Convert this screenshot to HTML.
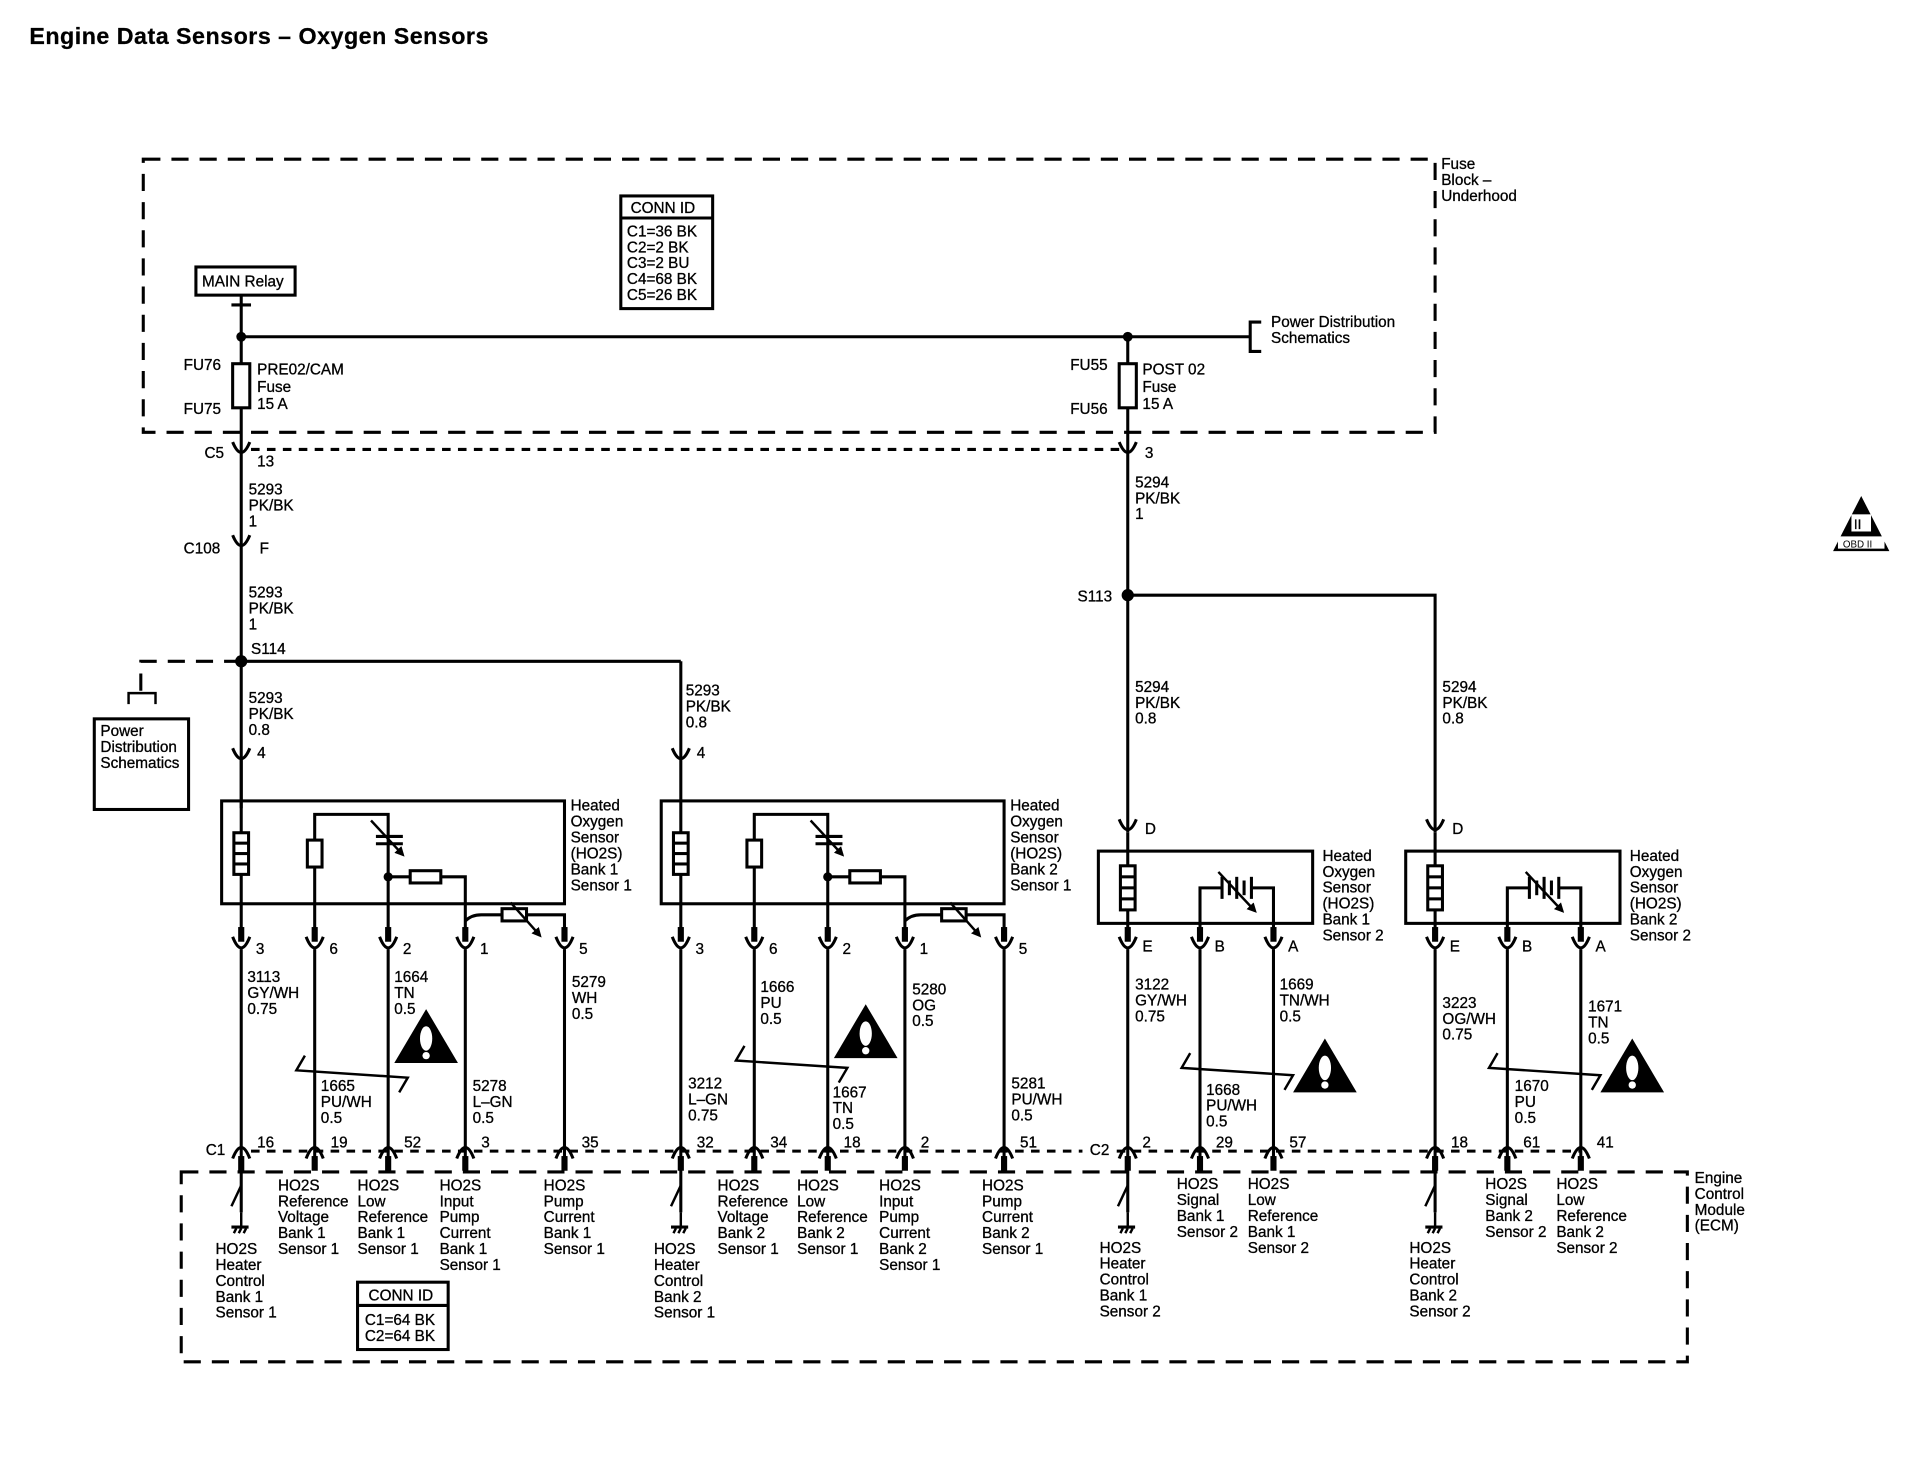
<!DOCTYPE html>
<html><head><meta charset="utf-8"><style>
html,body{margin:0;padding:0;background:#fff}
svg{display:block}
text{font-family:"Liberation Sans",sans-serif;font-size:12.5px;fill:#000;stroke:#000;stroke-width:0.25px;letter-spacing:0}
.t{font-weight:bold}
</style></head><body>
<svg width="1920" height="1472" viewBox="0 0 1568 1202" preserveAspectRatio="none" xmlns="http://www.w3.org/2000/svg">
<defs>
<marker id="ar" markerWidth="8" markerHeight="8" refX="6" refY="4" orient="auto" markerUnits="userSpaceOnUse"><path d="M0,0 L8,4 L0,8 z" fill="#000"/></marker>
<g id="cup"><path d="M-7,765 Q0,783 7,765" fill="none" stroke="#000" stroke-width="2.5"/><rect x="-2.5" y="757" width="5" height="12" fill="#000"/></g>
<g id="cap"><path d="M-7,946 Q0,928 7,946" fill="none" stroke="#000" stroke-width="2.5"/><rect x="-2.5" y="944" width="5" height="12" fill="#000"/></g>
<g id="wide" fill="none" stroke="#000" stroke-width="2.5">
 <rect x="-16" y="654" width="280" height="84"/>
 <line x1="0" y1="620" x2="0" y2="765"/>
 <rect x="-6" y="680" width="12" height="34" fill="#fff"/>
 <line x1="-6" y1="688.5" x2="6" y2="688.5"/><line x1="-6" y1="697" x2="6" y2="697"/><line x1="-6" y1="705.5" x2="6" y2="705.5"/>
 <polyline points="60,765 60,665 120,665 120,765"/>
 <rect x="54" y="686" width="12" height="22" fill="#fff"/>
 <line x1="110" y1="683" x2="132" y2="683"/><line x1="110" y1="689" x2="132" y2="689"/>
 <line x1="106" y1="670" x2="132" y2="698" marker-end="url(#ar)" stroke-width="2"/>
 <circle cx="120" cy="716" r="2.5" fill="#000"/>
 <polyline points="120,716 183,716 183,765"/>
 <rect x="138" y="711" width="25" height="10" fill="#fff"/>
 <path d="M183,752 Q188,747 196,747 L264,747 L264,765"/>
 <rect x="213" y="742" width="20" height="10" fill="#fff"/>
 <line x1="220" y1="737" x2="244" y2="764" marker-end="url(#ar)" stroke-width="2"/>
 <line x1="0" y1="775" x2="0" y2="990"/><line x1="60" y1="775" x2="60" y2="955"/><line x1="120" y1="775" x2="120" y2="955"/><line x1="183" y1="775" x2="183" y2="955"/><line x1="264" y1="775" x2="264" y2="955"/>
</g>
<g id="narrow" fill="none" stroke="#000" stroke-width="2.5">
 <rect x="-24" y="695" width="175" height="59"/>
 <line x1="0" y1="680" x2="0" y2="765"/>
 <rect x="-6" y="707" width="12" height="36" fill="#fff"/>
 <line x1="-6" y1="716" x2="6" y2="716"/><line x1="-6" y1="725" x2="6" y2="725"/><line x1="-6" y1="734" x2="6" y2="734"/>
 <polyline points="59,765 59,725 76,725"/><polyline points="119,765 119,725 102,725"/>
 <line x1="77" y1="716" x2="77" y2="734"/><line x1="83" y1="719" x2="83" y2="731"/><line x1="89" y1="716" x2="89" y2="734"/><line x1="95" y1="719" x2="95" y2="731"/><line x1="101" y1="716" x2="101" y2="734"/>
 <line x1="74" y1="712" x2="104" y2="744" marker-end="url(#ar)" stroke-width="2"/>
 <line x1="0" y1="775" x2="0" y2="990"/><line x1="59" y1="775" x2="59" y2="955"/><line x1="119" y1="775" x2="119" y2="955"/>
</g>
<g id="warn"><path d="M0,-22 L26,22 L-26,22 z" fill="#000"/><ellipse cx="0" cy="2" rx="5" ry="10" fill="#fff"/><circle cx="0" cy="16" r="3" fill="#fff"/></g>
<g id="sw" fill="none" stroke="#000" stroke-width="2"><line x1="0" y1="968" x2="-8" y2="985"/><line x1="0" y1="990" x2="0" y2="1002"/><line x1="-8" y1="1002" x2="6" y2="1002" stroke-width="2.5"/><line x1="-6" y1="1007" x2="-4" y2="1003"/><line x1="-2" y1="1007" x2="0" y2="1003"/><line x1="2" y1="1007" x2="4" y2="1003"/></g>
</defs>

<text x="24" y="36" class="t" style="font-size:19px;letter-spacing:0.4px;stroke-width:0.2px">Engine Data Sensors – Oxygen Sensors</text>

<g fill="none" stroke="#000" stroke-width="2.5" stroke-dasharray="14,9">
<rect x="117" y="130" width="1055" height="223"/>
<rect x="148" y="957" width="1230" height="155"/>
<line x1="205" y1="367" x2="915" y2="367" stroke-dasharray="7,6"/>
<line x1="205" y1="940" x2="884" y2="940" stroke-dasharray="7,6"/>
<line x1="912" y1="940" x2="1290" y2="940" stroke-dasharray="7,6"/>
<polyline points="197,540 115,540 115,566"/>
</g>
<text x="1177" y="138">Fuse</text><text x="1177" y="151">Block –</text><text x="1177" y="164">Underhood</text>

<g fill="none" stroke="#000" stroke-width="2.5">
<rect x="507" y="160" width="75" height="92"/><line x1="507" y1="178" x2="582" y2="178"/>
<rect x="160" y="218" width="81" height="23"/>
<line x1="197" y1="241" x2="197" y2="660"/><line x1="189" y1="249" x2="205" y2="249"/>
<line x1="197" y1="275" x2="1020" y2="275"/>
<polyline points="1030,263 1021,263 1021,287 1030,287"/>
<line x1="921" y1="275" x2="921" y2="680"/>
<rect x="190" y="297" width="14" height="36" fill="#fff"/>
<rect x="914" y="297" width="14" height="36" fill="#fff"/>
<polyline points="921,486 1172,486 1172,680"/>
<line x1="556" y1="540" x2="556" y2="620" /><line x1="197" y1="540" x2="556" y2="540"/>
<polyline points="105,575 105,566 127,566 127,575" stroke-width="2"/>
<rect x="77" y="587" width="77" height="74"/>
<rect x="292" y="1047" width="74" height="55"/><line x1="292" y1="1066" x2="366" y2="1066"/>
</g>
<circle cx="197" cy="275" r="4"/><circle cx="921" cy="275" r="4"/><circle cx="197" cy="540" r="5"/><circle cx="921" cy="486" r="5"/>
<text x="515" y="174">CONN ID</text>
<text x="512" y="193">C1=36 BK</text><text x="512" y="206">C2=2 BK</text><text x="512" y="219">C3=2 BU</text><text x="512" y="232">C4=68 BK</text><text x="512" y="245">C5=26 BK</text>
<text x="165" y="234">MAIN Relay</text>
<text x="1038" y="267">Power Distribution</text><text x="1038" y="280">Schematics</text>
<text x="150" y="302">FU76</text><text x="150" y="338">FU75</text>
<text x="210" y="306">PRE02/CAM</text><text x="210" y="320">Fuse</text><text x="210" y="334">15 A</text>
<text x="874" y="302">FU55</text><text x="874" y="338">FU56</text>
<text x="933" y="306">POST 02</text><text x="933" y="320">Fuse</text><text x="933" y="334">15 A</text>

<g fill="none" stroke="#000" stroke-width="2.5"><path d="M190,373 Q197,356 204,373" transform="rotate(180 197 367)"/><path d="M914,373 Q921,356 928,373" transform="rotate(180 921 367)"/>
<path d="M190,449 Q197,432 204,449" transform="rotate(180 197 443)"/>
<path d="M190,623 Q197,606 204,623" transform="rotate(180 197 617)"/>
<path d="M549,623 Q556,606 563,623" transform="rotate(180 556 617)"/>
<path d="M914,681 Q921,664 928,681" transform="rotate(180 921 675)"/>
<path d="M1165,681 Q1172,664 1179,681" transform="rotate(180 1172 675)"/>
</g>
<text x="167" y="374">C5</text><text x="210" y="381">13</text><text x="935" y="374">3</text>
<text x="203" y="404">5293</text><text x="203" y="417">PK/BK</text><text x="203" y="430">1</text>
<text x="150" y="452">C108</text><text x="212" y="452">F</text>
<text x="203" y="488">5293</text><text x="203" y="501">PK/BK</text><text x="203" y="514">1</text>
<text x="205" y="534">S114</text>
<text x="203" y="574">5293</text><text x="203" y="587">PK/BK</text><text x="203" y="600">0.8</text><text x="210" y="619">4</text>
<text x="560" y="568">5293</text><text x="560" y="581">PK/BK</text><text x="560" y="594">0.8</text><text x="569" y="619">4</text>
<text x="82" y="601">Power</text><text x="82" y="614">Distribution</text><text x="82" y="627">Schematics</text>
<text x="927" y="398">5294</text><text x="927" y="411">PK/BK</text><text x="927" y="424">1</text>
<text x="880" y="491">S113</text>
<text x="927" y="565">5294</text><text x="927" y="578">PK/BK</text><text x="927" y="591">0.8</text>
<text x="1178" y="565">5294</text><text x="1178" y="578">PK/BK</text><text x="1178" y="591">0.8</text>
<text x="935" y="681">D</text><text x="1186" y="681">D</text>

<path d="M1520,405 L1543,450 L1497,450 z" fill="#000"/><rect x="1512" y="420" width="16" height="14" fill="#fff"/><text x="1514" y="432" style="font-size:11px">II</text><rect x="1501" y="438" width="38" height="10" fill="#fff"/><text x="1505" y="447" style="font-size:8px;stroke-width:0">OBD II</text>

<use href="#wide" x="197"/><use href="#wide" x="556"/>
<use href="#narrow" x="921"/><use href="#narrow" x="1172"/>
<g>
<use href="#cup" x="197"/><use href="#cup" x="257"/><use href="#cup" x="317"/><use href="#cup" x="380"/><use href="#cup" x="461"/>
<use href="#cup" x="556"/><use href="#cup" x="616"/><use href="#cup" x="676"/><use href="#cup" x="739"/><use href="#cup" x="820"/>
<use href="#cup" x="921"/><use href="#cup" x="980"/><use href="#cup" x="1040"/>
<use href="#cup" x="1172"/><use href="#cup" x="1231"/><use href="#cup" x="1291"/>
<use href="#cap" x="197"/><use href="#cap" x="257"/><use href="#cap" x="317"/><use href="#cap" x="380"/><use href="#cap" x="461"/>
<use href="#cap" x="556"/><use href="#cap" x="616"/><use href="#cap" x="676"/><use href="#cap" x="739"/><use href="#cap" x="820"/>
<use href="#cap" x="921"/><use href="#cap" x="980"/><use href="#cap" x="1040"/>
<use href="#cap" x="1172"/><use href="#cap" x="1231"/><use href="#cap" x="1291"/>
<use href="#sw" x="197"/><use href="#sw" x="556"/><use href="#sw" x="921"/><use href="#sw" x="1172"/>
</g>
<text x="466" y="662">Heated</text><text x="466" y="675">Oxygen</text><text x="466" y="688">Sensor</text><text x="466" y="701">(HO2S)</text><text x="466" y="714">Bank 1</text><text x="466" y="727">Sensor 1</text>
<text x="825" y="662">Heated</text><text x="825" y="675">Oxygen</text><text x="825" y="688">Sensor</text><text x="825" y="701">(HO2S)</text><text x="825" y="714">Bank 2</text><text x="825" y="727">Sensor 1</text>
<text x="1080" y="703">Heated</text><text x="1080" y="716">Oxygen</text><text x="1080" y="729">Sensor</text><text x="1080" y="742">(HO2S)</text><text x="1080" y="755">Bank 1</text><text x="1080" y="768">Sensor 2</text>
<text x="1331" y="703">Heated</text><text x="1331" y="716">Oxygen</text><text x="1331" y="729">Sensor</text><text x="1331" y="742">(HO2S)</text><text x="1331" y="755">Bank 2</text><text x="1331" y="768">Sensor 2</text>

<text x="209" y="779">3</text><text x="269" y="779">6</text><text x="329" y="779">2</text><text x="392" y="779">1</text><text x="473" y="779">5</text>
<text x="568" y="779">3</text><text x="628" y="779">6</text><text x="688" y="779">2</text><text x="751" y="779">1</text><text x="832" y="779">5</text>
<text x="933" y="777">E</text><text x="992" y="777">B</text><text x="1052" y="777">A</text>
<text x="1184" y="777">E</text><text x="1243" y="777">B</text><text x="1303" y="777">A</text>

<text x="202" y="802">3113</text><text x="202" y="815">GY/WH</text><text x="202" y="828">0.75</text>
<text x="322" y="802">1664</text><text x="322" y="815">TN</text><text x="322" y="828">0.5</text>
<text x="467" y="806">5279</text><text x="467" y="819">WH</text><text x="467" y="832">0.5</text>
<text x="262" y="891">1665</text><text x="262" y="904">PU/WH</text><text x="262" y="917">0.5</text>
<text x="386" y="891">5278</text><text x="386" y="904">L–GN</text><text x="386" y="917">0.5</text>
<text x="621" y="810">1666</text><text x="621" y="823">PU</text><text x="621" y="836">0.5</text>
<text x="745" y="812">5280</text><text x="745" y="825">OG</text><text x="745" y="838">0.5</text>
<text x="562" y="889">3212</text><text x="562" y="902">L–GN</text><text x="562" y="915">0.75</text>
<text x="680" y="896">1667</text><text x="680" y="909">TN</text><text x="680" y="922">0.5</text>
<text x="826" y="889">5281</text><text x="826" y="902">PU/WH</text><text x="826" y="915">0.5</text>
<text x="927" y="808">3122</text><text x="927" y="821">GY/WH</text><text x="927" y="834">0.75</text>
<text x="1045" y="808">1669</text><text x="1045" y="821">TN/WH</text><text x="1045" y="834">0.5</text>
<text x="985" y="894">1668</text><text x="985" y="907">PU/WH</text><text x="985" y="920">0.5</text>
<text x="1178" y="823">3223</text><text x="1178" y="836">OG/WH</text><text x="1178" y="849">0.75</text>
<text x="1297" y="826">1671</text><text x="1297" y="839">TN</text><text x="1297" y="852">0.5</text>
<text x="1237" y="891">1670</text><text x="1237" y="904">PU</text><text x="1237" y="917">0.5</text>

<g fill="none" stroke="#000" stroke-width="2">
<polyline points="249,862 242,874 333,880 326,892"/>
<polyline points="608,854 601,866 692,872 685,884"/>
<polyline points="972,860 965,872 1056,878 1049,890"/>
<polyline points="1223,860 1216,872 1307,878 1300,890"/>
</g>
<use href="#warn" x="348" y="846"/><use href="#warn" x="707" y="842"/><use href="#warn" x="1082" y="870"/><use href="#warn" x="1333" y="870"/>

<text x="168" y="943">C1</text><text x="210" y="937">16</text><text x="270" y="937">19</text><text x="330" y="937">52</text><text x="393" y="937">3</text><text x="475" y="937">35</text>
<text x="569" y="937">32</text><text x="629" y="937">34</text><text x="689" y="937">18</text><text x="752" y="937">2</text><text x="833" y="937">51</text>
<text x="890" y="943">C2</text><text x="933" y="937">2</text><text x="993" y="937">29</text><text x="1053" y="937">57</text>
<text x="1185" y="937">18</text><text x="1244" y="937">61</text><text x="1304" y="937">41</text>

<text x="1384" y="966">Engine</text><text x="1384" y="979">Control</text><text x="1384" y="992">Module</text><text x="1384" y="1005">(ECM)</text>

<g>
<text x="176" y="1024">HO2S</text><text x="176" y="1037">Heater</text><text x="176" y="1050">Control</text><text x="176" y="1063">Bank 1</text><text x="176" y="1076">Sensor 1</text>
<text x="227" y="972">HO2S</text><text x="227" y="985">Reference</text><text x="227" y="998">Voltage</text><text x="227" y="1011">Bank 1</text><text x="227" y="1024">Sensor 1</text>
<text x="292" y="972">HO2S</text><text x="292" y="985">Low</text><text x="292" y="998">Reference</text><text x="292" y="1011">Bank 1</text><text x="292" y="1024">Sensor 1</text>
<text x="359" y="972">HO2S</text><text x="359" y="985">Input</text><text x="359" y="998">Pump</text><text x="359" y="1011">Current</text><text x="359" y="1024">Bank 1</text><text x="359" y="1037">Sensor 1</text>
<text x="444" y="972">HO2S</text><text x="444" y="985">Pump</text><text x="444" y="998">Current</text><text x="444" y="1011">Bank 1</text><text x="444" y="1024">Sensor 1</text>
<text x="534" y="1024">HO2S</text><text x="534" y="1037">Heater</text><text x="534" y="1050">Control</text><text x="534" y="1063">Bank 2</text><text x="534" y="1076">Sensor 1</text>
<text x="586" y="972">HO2S</text><text x="586" y="985">Reference</text><text x="586" y="998">Voltage</text><text x="586" y="1011">Bank 2</text><text x="586" y="1024">Sensor 1</text>
<text x="651" y="972">HO2S</text><text x="651" y="985">Low</text><text x="651" y="998">Reference</text><text x="651" y="1011">Bank 2</text><text x="651" y="1024">Sensor 1</text>
<text x="718" y="972">HO2S</text><text x="718" y="985">Input</text><text x="718" y="998">Pump</text><text x="718" y="1011">Current</text><text x="718" y="1024">Bank 2</text><text x="718" y="1037">Sensor 1</text>
<text x="802" y="972">HO2S</text><text x="802" y="985">Pump</text><text x="802" y="998">Current</text><text x="802" y="1011">Bank 2</text><text x="802" y="1024">Sensor 1</text>
<text x="898" y="1023">HO2S</text><text x="898" y="1036">Heater</text><text x="898" y="1049">Control</text><text x="898" y="1062">Bank 1</text><text x="898" y="1075">Sensor 2</text>
<text x="961" y="971">HO2S</text><text x="961" y="984">Signal</text><text x="961" y="997">Bank 1</text><text x="961" y="1010">Sensor 2</text>
<text x="1019" y="971">HO2S</text><text x="1019" y="984">Low</text><text x="1019" y="997">Reference</text><text x="1019" y="1010">Bank 1</text><text x="1019" y="1023">Sensor 2</text>
<text x="1151" y="1023">HO2S</text><text x="1151" y="1036">Heater</text><text x="1151" y="1049">Control</text><text x="1151" y="1062">Bank 2</text><text x="1151" y="1075">Sensor 2</text>
<text x="1213" y="971">HO2S</text><text x="1213" y="984">Signal</text><text x="1213" y="997">Bank 2</text><text x="1213" y="1010">Sensor 2</text>
<text x="1271" y="971">HO2S</text><text x="1271" y="984">Low</text><text x="1271" y="997">Reference</text><text x="1271" y="1010">Bank 2</text><text x="1271" y="1023">Sensor 2</text>
</g>
<text x="301" y="1062">CONN ID</text><text x="298" y="1082">C1=64 BK</text><text x="298" y="1095">C2=64 BK</text>
</svg>
</body></html>
